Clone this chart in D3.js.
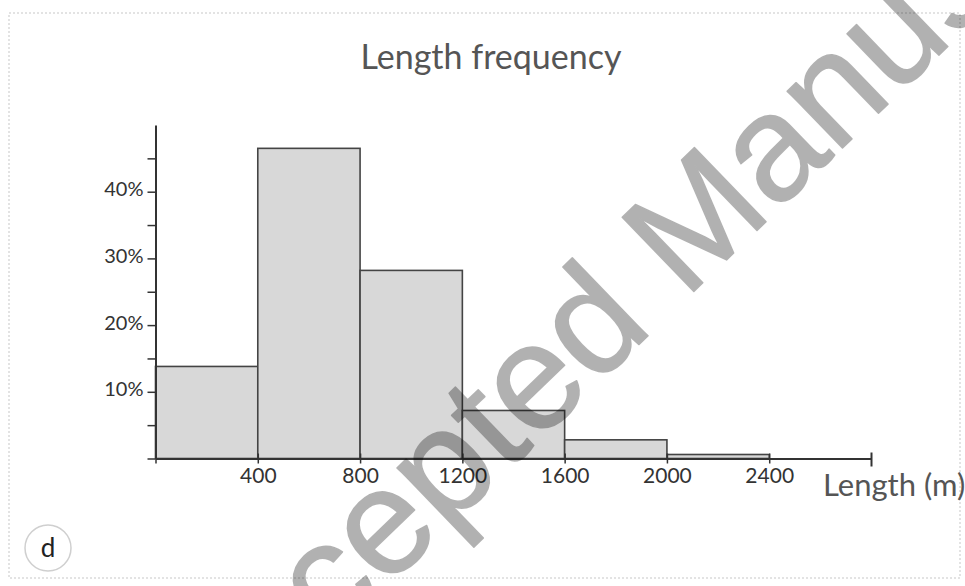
<!DOCTYPE html>
<html>
<head>
<meta charset="utf-8">
<script src="https://cdn.jsdelivr.net/npm/d3@7"></script>
<style>
  body { margin: 0; background: #fff; }
  svg { display: block; }
</style>
</head>
<body>
<svg id="chart"></svg>
<script>
// histogram bins (length in m) and share of segments in each bin (%)
const binStarts = [0, 400, 800, 1200, 1600, 2000];
const binEnds = [400, 800, 1200, 1600, 2000, 2400];
const percents = [13.8, 46.5, 28.2, 7.2, 2.8, 0.6];
const xTicks = [0, 400, 800, 1200, 1600, 2000, 2400];
const yTicks = [0, 5, 10, 15, 20, 25, 30, 35, 40, 45];
const yLabelled = [10, 20, 30, 40];

const canvasWidth = 965;
const canvasHeight = 586;
const font = "Lato, 'Open Sans', sans-serif";

const svg = d3.select("#chart")
  .attr("width", canvasWidth)
  .attr("height", canvasHeight);

// panel border
svg.append("rect")
  .attr("x", 9).attr("y", 13)
  .attr("width", 951).attr("height", 565)
  .attr("fill", "none")
  .attr("stroke", "#dadada")
  .attr("stroke-width", 1.5)
  .attr("stroke-dasharray", "2,2");

let x_scale = d3.scaleLinear().domain([0, 2800]).range([155.5, 871.5]);
let y_scale = d3.scaleLinear().domain([0, 50]).range([458.5, 125]);

svg.append("text")
  .attr("x", 491).attr("y", 69)
  .attr("text-anchor", "middle")
  .attr("font-family", font)
  .attr("font-size", 34)
  .attr("fill", "#555")
  .text("Length frequency");

// bars
svg.selectAll(".bin")
  .data(percents).enter()
  .append("rect")
  .attr("class", "bin")
  .attr("x", (d, i) => x_scale(binStarts[i]))
  .attr("width", (d, i) => x_scale(binEnds[i]) - x_scale(binStarts[i]))
  .attr("y", d => y_scale(d))
  .attr("height", d => y_scale(0) - y_scale(d))
  .attr("fill", "#d8d8d8")
  .attr("stroke", "#444")
  .attr("stroke-width", 1.6);

// y axis
let y_axis = d3.axisLeft(y_scale)
  .tickValues(yTicks)
  .tickSizeInner(8)
  .tickSizeOuter(0)
  .tickFormat(d => yLabelled.includes(d) ? d + "%" : "");
let gy = svg.append("g")
  .attr("transform", "translate(" + x_scale(0) + ",0)")
  .call(y_axis);
gy.select(".domain").attr("stroke", "#333").attr("stroke-width", 2);
gy.selectAll(".tick line").attr("stroke", "#333").attr("stroke-width", 1.5);
gy.selectAll(".tick text")
  .attr("x", -12)
  .attr("dy", "0.2em")
  .attr("font-family", font)
  .attr("font-size", 20)
  .attr("fill", "#333");

// x axis
let x_axis = d3.axisBottom(x_scale)
  .tickValues(xTicks)
  .tickSizeInner(5)
  .tickSizeOuter(0)
  .tickFormat(d => d === 0 ? "" : d);
let gx = svg.append("g")
  .attr("transform", "translate(0," + y_scale(0) + ")")
  .call(x_axis);
gx.select(".domain").attr("stroke", "#333").attr("stroke-width", 2);
gx.selectAll(".tick line")
  .attr("y1", d => d === 0 ? 0 : -5)
  .attr("stroke", "#333").attr("stroke-width", 1.5);
gx.selectAll(".tick text")
  .attr("y", 24.5)
  .attr("dy", null)
  .attr("font-family", font)
  .attr("font-size", 21)
  .attr("fill", "#333");
// end cap of the axis at 2800
gx.append("line")
  .attr("x1", x_scale(2800)).attr("x2", x_scale(2800))
  .attr("y1", -6).attr("y2", 8)
  .attr("stroke", "#333").attr("stroke-width", 2);

svg.append("text")
  .attr("x", 823).attr("y", 496)
  .attr("font-family", font)
  .attr("font-size", 31)
  .attr("fill", "#555")
  .text("Length (m)");

// panel letter
svg.append("circle")
  .attr("cx", 48).attr("cy", 548).attr("r", 23)
  .attr("fill", "#fff")
  .attr("stroke", "#cfcfcf")
  .attr("stroke-width", 1.5);
svg.append("text")
  .attr("x", 48).attr("y", 557)
  .attr("text-anchor", "middle")
  .attr("font-family", font)
  .attr("font-size", 26)
  .attr("fill", "#222")
  .text("d");

// watermark
svg.append("g")
  .attr("opacity", 0.3)
  .append("text")
  .attr("transform", "translate(709,277) rotate(-44)")
  .attr("text-anchor", "middle")
  .attr("font-family", "'Liberation Sans', Arial, sans-serif")
  .attr("font-size", 150)
  .attr("fill", "#000")
  .attr("stroke", "#000")
  .attr("stroke-width", 1.5)
  .attr("stroke-linejoin", "round")
  .text("Accepted Manuscript");
</script>
</body>
</html>
